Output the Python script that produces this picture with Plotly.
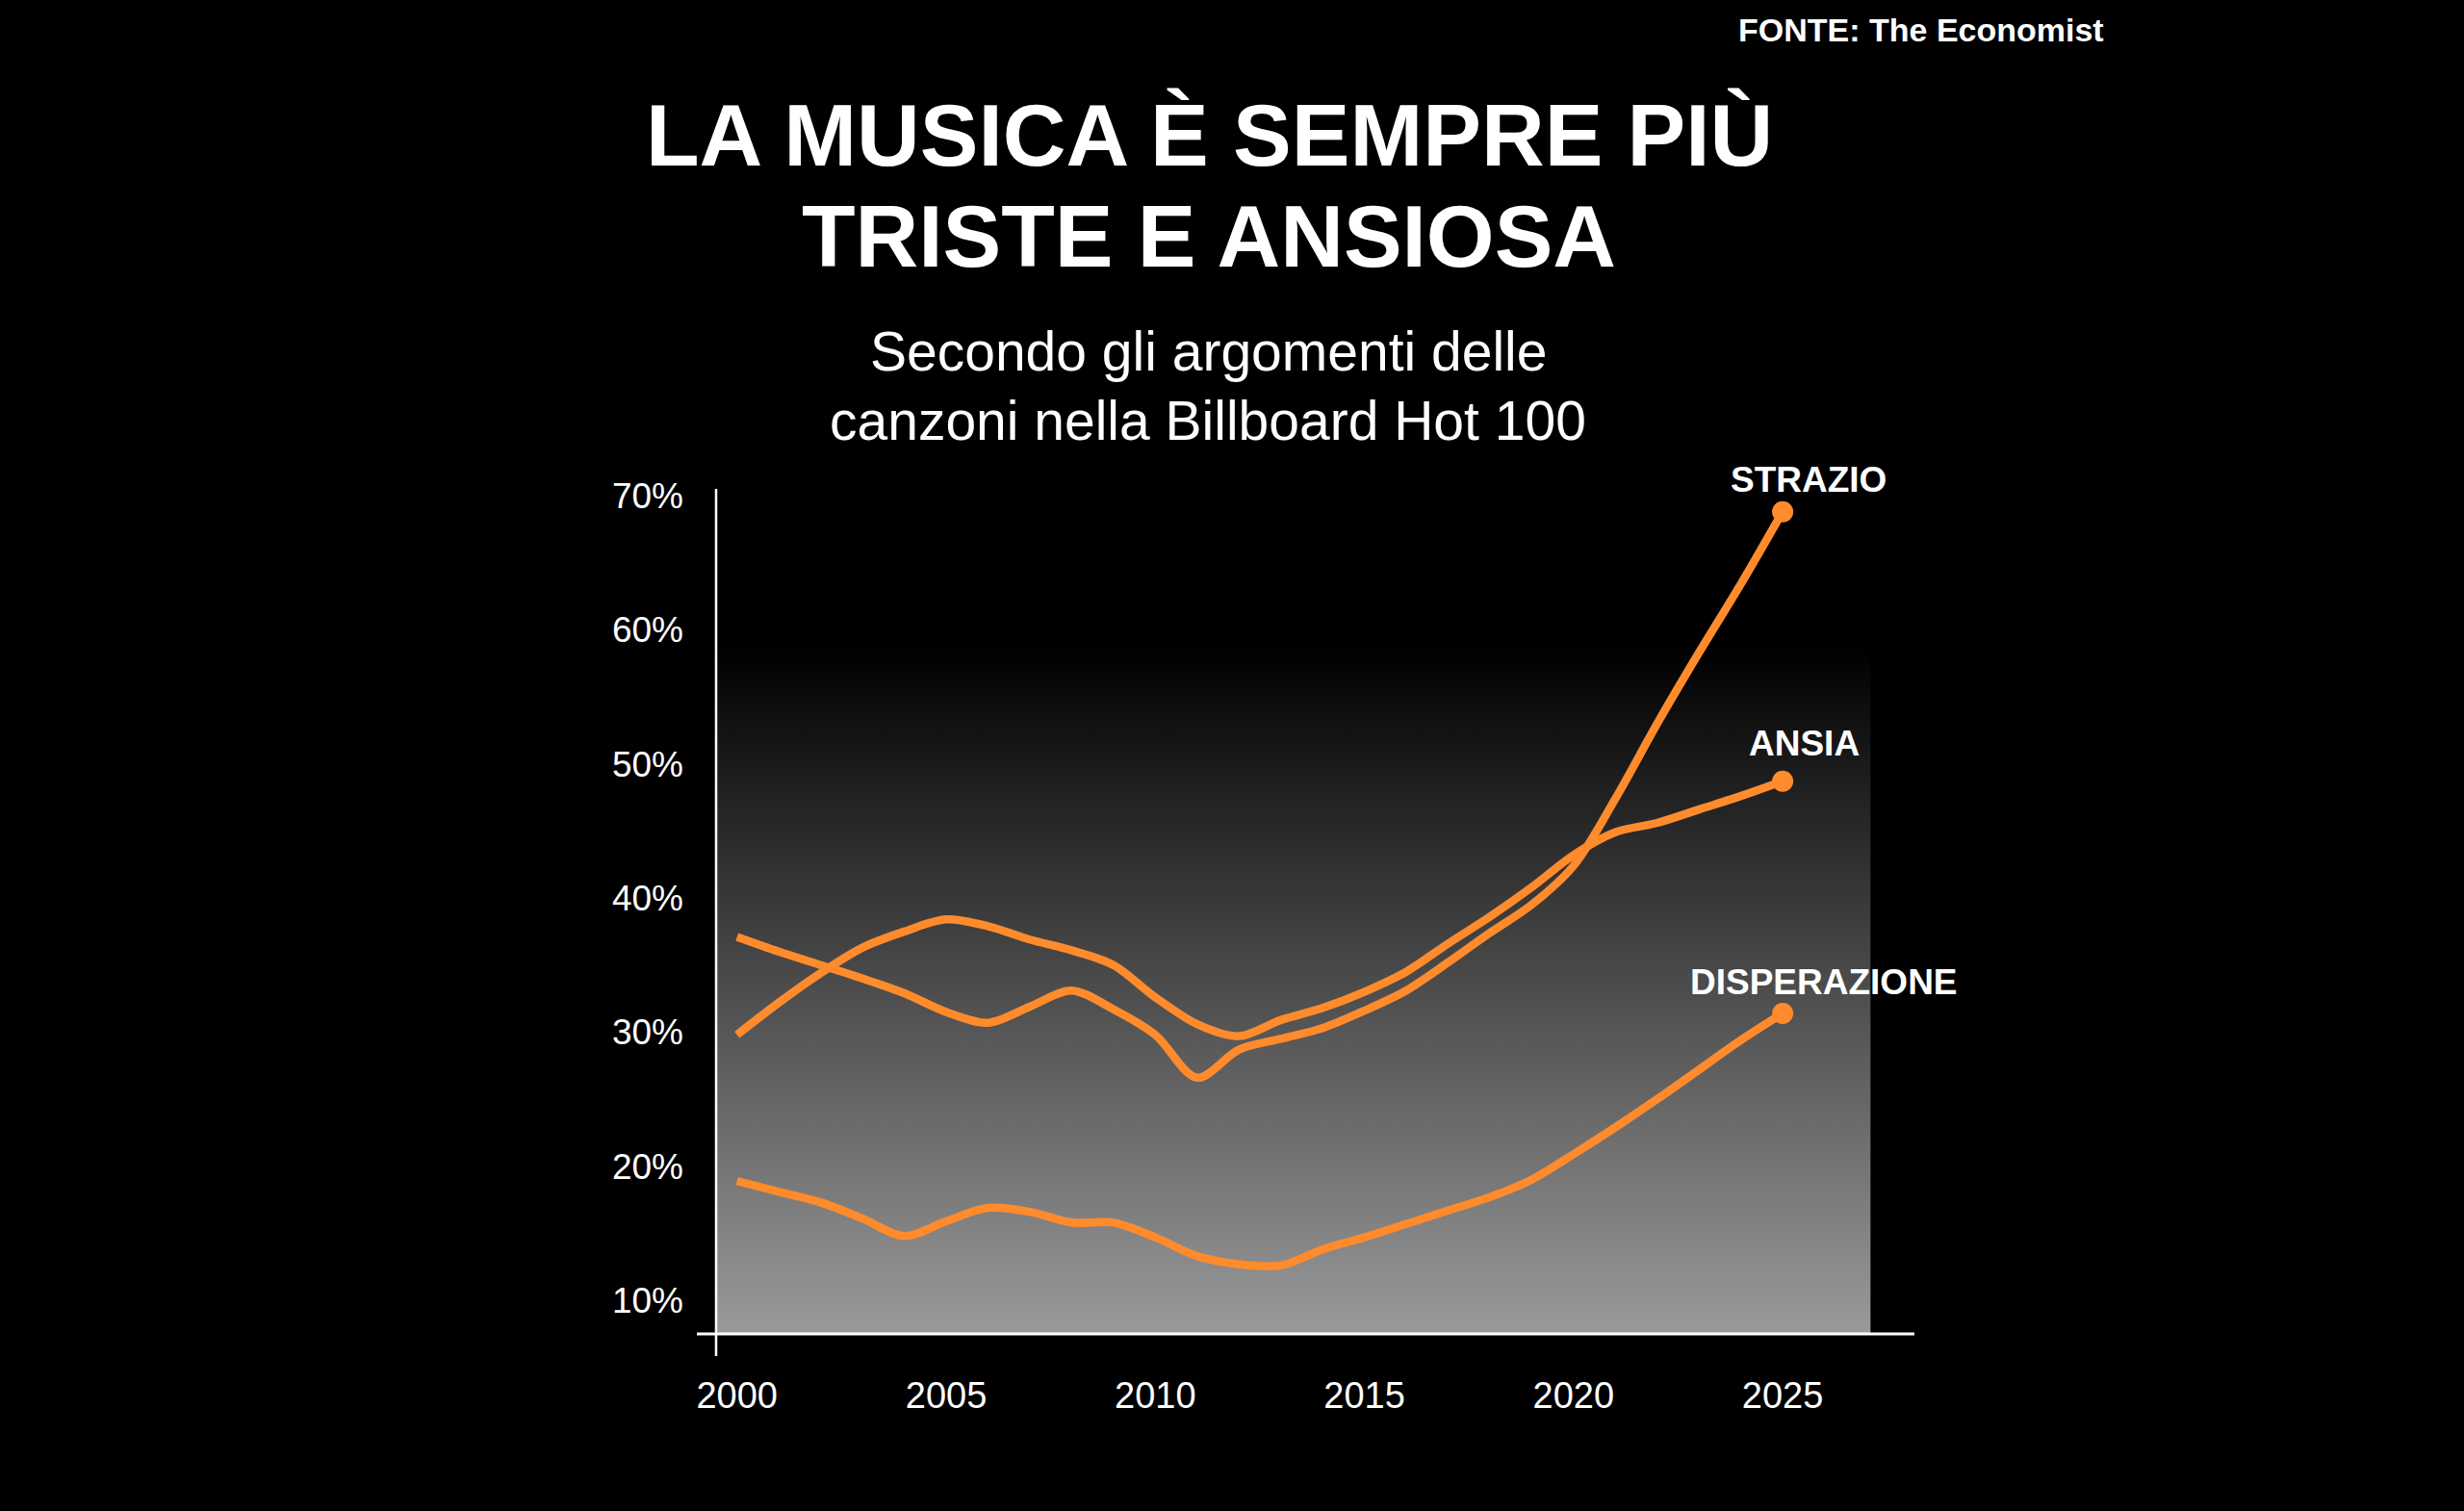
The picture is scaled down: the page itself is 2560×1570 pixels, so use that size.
import plotly.graph_objects as go

# ---------------- data ----------------
YEARS = list(range(2000, 2026))
STRAZIO = [37.1, 36.0, 35.0, 34.0, 32.9, 31.5, 30.7, 31.9, 33.1, 31.7,
           29.8, 26.6, 28.7, 29.5, 30.3, 31.6, 33.1, 35.2, 37.4, 39.5,
           42.4, 47.4, 53.0, 58.3, 63.4, 68.8]
ANSIA = [29.8, 32.2, 34.4, 36.3, 37.5, 38.4, 37.9, 36.9, 36.1, 35.0,
         32.6, 30.6, 29.7, 30.9, 31.8, 33.0, 34.5, 36.6, 38.6, 40.8,
         43.2, 44.9, 45.6, 46.6, 47.6, 48.7]
DISPERAZIONE = [18.9, 18.1, 17.3, 16.1, 14.8, 15.9, 16.9, 16.6, 15.8, 15.8,
                14.7, 13.3, 12.7, 12.6, 13.8, 14.7, 15.7, 16.7, 17.7, 19.0,
                20.9, 22.9, 25.0, 27.2, 29.4, 31.4]
SERIES_NAMES = ["STRAZIO", "ANSIA", "DISPERAZIONE"]
SERIES_VALUES = [STRAZIO, ANSIA, DISPERAZIONE]

X_TICKS = [2000, 2005, 2010, 2015, 2020, 2025]
X_TICK_LABELS = ["2000", "2005", "2010", "2015", "2020", "2025"]
Y_TICKS = [10, 20, 30, 40, 50, 60, 70]
Y_TICK_LABELS = ["10%", "20%", "30%", "40%", "50%", "60%", "70%"]

TITLE_LINES = ["LA MUSICA È SEMPRE PIÙ", "TRISTE E ANSIOSA"]
SUBTITLE_LINES = ["Secondo gli argomenti delle", "canzoni nella Billboard Hot 100"]
SOURCE = "FONTE: The Economist"

# ---------------- layout / style ----------------
W, H = 2560, 1570
PLOT_L, PLOT_R, PLOT_T, PLOT_B = 744, 1989, 508, 1386
X_RANGE = [1999.5, 2028.15]
Y_RANGE = [7.5, 70.5]
BG_X1 = 2027.1        # right edge of gradient panel
BG_Y1 = 58.7          # top of gradient panel
ORANGE = "#FF8B2D"
FONT = "Liberation Sans"
LABEL_OFFSETS = {"STRAZIO": (27, 33), "ANSIA": (22, 39), "DISPERAZIONE": (43, 32)}
TITLE_Y = [141, 245]
SUBTITLE_Y = [365, 437]

pw = PLOT_R - PLOT_L
ph = PLOT_B - PLOT_T


def px_x(px):
    return (px - PLOT_L) / pw


def px_y(py):
    return (PLOT_B - py) / ph


fig = go.Figure()

# gradient background panel
fig.add_trace(go.Scatter(
    x=[X_RANGE[0], BG_X1, BG_X1, X_RANGE[0], X_RANGE[0]],
    y=[Y_RANGE[0], Y_RANGE[0], BG_Y1, BG_Y1, Y_RANGE[0]],
    fill="toself", mode="lines", line=dict(width=0),
    fillgradient=dict(type="vertical",
                      colorscale=[[0, "#9a9a9a"], [1, "#000000"]]),
    hoverinfo="skip", showlegend=False))

for name, vals in zip(SERIES_NAMES, SERIES_VALUES):
    fig.add_trace(go.Scatter(
        x=YEARS, y=vals, mode="lines", name=name,
        line=dict(color=ORANGE, width=8.5, shape="spline", smoothing=0.9),
        showlegend=False))
    fig.add_trace(go.Scatter(
        x=[YEARS[-1]], y=[vals[-1]], mode="markers",
        marker=dict(color=ORANGE, size=22), showlegend=False, hoverinfo="skip"))

annotations = []
for name, vals in zip(SERIES_NAMES, SERIES_VALUES):
    dx, dy = LABEL_OFFSETS[name]
    annotations.append(dict(
        x=YEARS[-1], y=vals[-1], xref="x", yref="y", text=name,
        showarrow=False, xshift=dx, yshift=dy, xanchor="center", yanchor="middle",
        font=dict(family=FONT, size=37, color="white", weight="bold")))

for line, py in zip(TITLE_LINES, TITLE_Y):
    annotations.append(dict(
        x=px_x(1256), y=px_y(py), xref="paper", yref="paper", text=line,
        showarrow=False, xanchor="center", yanchor="middle",
        font=dict(family=FONT, size=91, color="white", weight="bold")))

for line, py in zip(SUBTITLE_LINES, SUBTITLE_Y):
    annotations.append(dict(
        x=px_x(1255), y=px_y(py), xref="paper", yref="paper", text=line,
        showarrow=False, xanchor="center", yanchor="middle",
        font=dict(family=FONT, size=57, color="white")))

annotations.append(dict(
    x=px_x(2188), y=px_y(31), xref="paper", yref="paper", text=SOURCE,
    showarrow=False, xanchor="right", yanchor="middle",
    font=dict(family=FONT, size=34, color="white", weight="bold")))

shapes = [
    dict(type="line", xref="paper", yref="paper",
         x0=px_x(724), x1=1, y0=0, y1=0,
         line=dict(color="white", width=3), layer="above"),
    dict(type="line", xref="paper", yref="paper",
         x0=0, x1=0, y0=px_y(1409), y1=1,
         line=dict(color="white", width=2.5), layer="above"),
]

fig.update_layout(
    width=W, height=H, autosize=False,
    margin=dict(l=PLOT_L, r=W - PLOT_R, t=PLOT_T, b=H - PLOT_B, pad=0),
    paper_bgcolor="black", plot_bgcolor="black",
    showlegend=False,
    annotations=annotations, shapes=shapes,
    xaxis=dict(range=X_RANGE, tickvals=X_TICKS, ticktext=X_TICK_LABELS,
               showgrid=False, zeroline=False, showline=False, ticks="",
               ticklabelstandoff=38,
               tickfont=dict(family=FONT, size=38, color="white")),
    yaxis=dict(range=Y_RANGE, tickvals=Y_TICKS, ticktext=Y_TICK_LABELS,
               showgrid=False, zeroline=False, showline=False, ticks="",
               ticklabelstandoff=33,
               tickfont=dict(family=FONT, size=37, color="white")),
)

fig.write_html("out.html")
